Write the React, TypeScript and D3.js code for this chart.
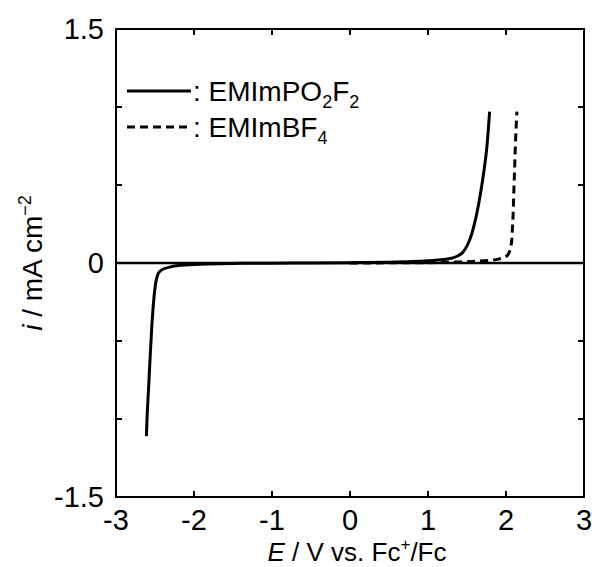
import React from "react";
import * as d3 from "d3";

// potential (V vs Fc+/Fc) and current density (mA cm-2)
const po2f2E = [-2.61, -2.6, -2.58, -2.56, -2.54, -2.52, -2.5, -2.48, -2.45, -2.4, -2.3, -2.2, -2.0, -1.5, -1.0, -0.5, 0.0, 0.5, 0.8, 1.0, 1.2, 1.3, 1.38, 1.44, 1.5, 1.55, 1.6, 1.65, 1.7, 1.75, 1.79];
const po2f2I = [-1.11, -0.97, -0.78, -0.58, -0.4, -0.26, -0.16, -0.1, -0.06, -0.04, -0.025, -0.016, -0.009, -0.003, -0.001, 0.0, 0.002, 0.005, 0.009, 0.014, 0.022, 0.03, 0.045, 0.065, 0.11, 0.17, 0.26, 0.38, 0.53, 0.72, 0.97];

const bf4E = [0.0, 0.5, 1.0, 1.2, 1.4, 1.6, 1.8, 1.9, 1.97, 2.02, 2.05, 2.07, 2.08, 2.09, 2.1, 2.11, 2.12, 2.13, 2.14];
const bf4I = [0.0, 0.001, 0.002, 0.004, 0.007, 0.011, 0.018, 0.025, 0.035, 0.05, 0.08, 0.13, 0.2, 0.3, 0.45, 0.6, 0.75, 0.87, 0.97];

const xTicks = [-3, -2, -1, 0, 1, 2, 3];
const yTicks = [-1.5, -1.0, -0.5, 0, 0.5, 1.0, 1.5];
const yLabels = [-1.5, 0, 1.5];

const W = 592;
const H = 567;
const left = 116, right = 584, top = 29, bottom = 497;
const font = "Arial, 'Liberation Sans', sans-serif";

export default function App() {
  const x = d3.scaleLinear().domain([-3, 3]).range([left, right]);
  const y = d3.scaleLinear().domain([-1.5, 1.5]).range([bottom, top]);

  const solid = po2f2E.map((e, i) => [e, po2f2I[i]] as [number, number]);
  const dashed = bf4E.map((e, i) => [e, bf4I[i]] as [number, number]);

  const lineSmooth = d3.line<[number, number]>()
    .x(d => x(d[0]))
    .y(d => y(d[1]))
    .curve(d3.curveCatmullRom.alpha(0.5));

  return (
    <svg width={W} height={H} style={{ position: "absolute", left: 0, top: 0 }} fontFamily={font}>
      <rect width={W} height={H} fill="white" />
      {/* zero line */}
      <line x1={left} x2={right} y1={y(0)} y2={y(0)} stroke="black" strokeWidth={2.5} />

      <path d={lineSmooth(solid) || ""} fill="none" stroke="black" strokeWidth={3} />
      <path d={lineSmooth(dashed) || ""} fill="none" stroke="black" strokeWidth={3} strokeDasharray="8,5" />

      {/* frame */}
      <rect x={left} y={top} width={right - left} height={bottom - top} fill="none" stroke="black" strokeWidth={2} />

      {xTicks.map(t => (
        <g key={"x" + t}>
          <line x1={x(t)} x2={x(t)} y1={bottom} y2={bottom - 6} stroke="black" strokeWidth={2} />
          <line x1={x(t)} x2={x(t)} y1={top} y2={top + 6} stroke="black" strokeWidth={2} />
          <text x={x(t)} y={bottom + 33} textAnchor="middle" fontSize={29}>{t < 0 ? "-" + Math.abs(t) : t}</text>
        </g>
      ))}
      {yTicks.map(t => (
        <g key={"y" + t}>
          <line x1={left} x2={left + 6} y1={y(t)} y2={y(t)} stroke="black" strokeWidth={2} />
          <line x1={right} x2={right - 6} y1={y(t)} y2={y(t)} stroke="black" strokeWidth={2} />
        </g>
      ))}
      {yLabels.map(t => (
        <text key={"yl" + t} x={left - 12} y={y(t) + 10} textAnchor="end" fontSize={29}>
          {t === 0 ? "0" : t < 0 ? "-" + Math.abs(t).toFixed(1) : t.toFixed(1)}
        </text>
      ))}

      {/* axis titles */}
      <text x={357} y={561} textAnchor="middle" fontSize={26}>
        <tspan fontStyle="italic">E</tspan> / V vs. Fc<tspan fontSize={17} dy={-11}>+</tspan><tspan dy={11}>/Fc</tspan>
      </text>
      <text transform={`translate(42,263) rotate(-90)`} textAnchor="middle" fontSize={28}>
        <tspan fontStyle="italic">i</tspan> / mA cm<tspan fontSize={18} dy={-11}>−2</tspan>
      </text>

      {/* legend */}
      <line x1={127} x2={191} y1={91} y2={91} stroke="black" strokeWidth={3} />
      <text x={193} y={101} fontSize={28}>
        : EMImPO<tspan fontSize={18} dy={7}>2</tspan><tspan dy={-7}>F</tspan><tspan fontSize={18} dy={7}>2</tspan>
      </text>
      <line x1={127} x2={191} y1={127} y2={127} stroke="black" strokeWidth={3} strokeDasharray="8,5" />
      <text x={193} y={137} fontSize={28}>
        : EMImBF<tspan fontSize={18} dy={7}>4</tspan>
      </text>
    </svg>
  );
}
